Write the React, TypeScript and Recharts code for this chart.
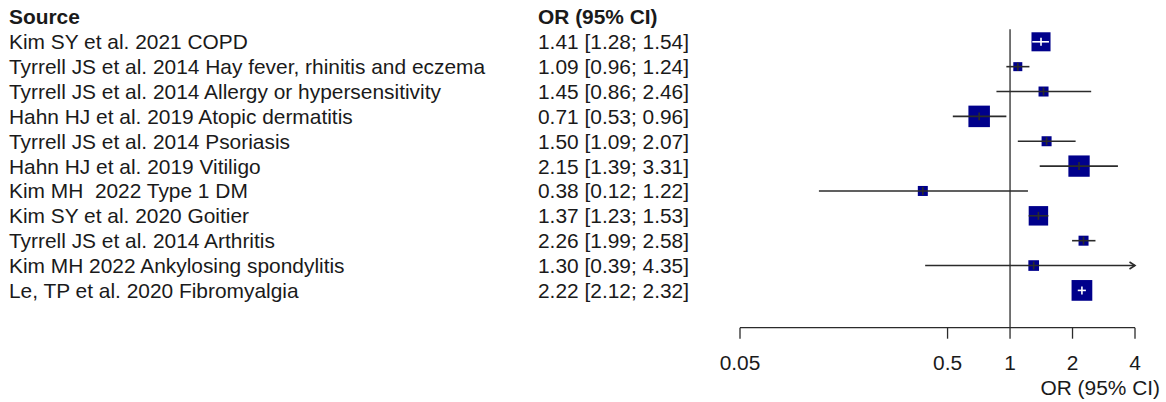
import React from "react";
import { ComposedChart, Scatter, XAxis, YAxis, ReferenceLine } from "recharts";

const studies = [
  "Kim SY et al. 2021 COPD",
  "Tyrrell JS et al. 2014 Hay fever, rhinitis and eczema",
  "Tyrrell JS et al. 2014 Allergy or hypersensitivity",
  "Hahn HJ et al. 2019 Atopic dermatitis",
  "Tyrrell JS et al. 2014 Psoriasis",
  "Hahn HJ et al. 2019 Vitiligo",
  "Kim MH  2022 Type 1 DM",
  "Kim SY et al. 2020 Goitier",
  "Tyrrell JS et al. 2014 Arthritis",
  "Kim MH 2022 Ankylosing spondylitis",
  "Le, TP et al. 2020 Fibromyalgia",
];
const orValues = [1.41, 1.09, 1.45, 0.71, 1.5, 2.15, 0.38, 1.37, 2.26, 1.3, 2.22];
const lowerCI = [1.28, 0.96, 0.86, 0.53, 1.09, 1.39, 0.12, 1.23, 1.99, 0.39, 2.12];
const upperCI = [1.54, 1.24, 2.46, 0.96, 2.07, 3.31, 1.22, 1.53, 2.58, 4.35, 2.32];
// approximate study weights (%), read from square sizes
const weights = [13.4, 3.0, 3.7, 17.1, 3.7, 16.8, 3.7, 14.0, 3.7, 4.2, 15.9];
const xTicks = [0.05, 0.5, 1, 2, 4];

const X_MIN = 0.05;
const X_MAX = 4;
const FONT = "'Liberation Sans', Arial, Helvetica, sans-serif";
const FS = 20.9;
const TEXT = "#1a1a1a";
const LINE = "#2b2b2b";
const SQUARE = "#00008B";
const SQ_SCALE = 5.2;

const sideOf = (w: number) => SQ_SCALE * Math.sqrt(w);
const fmt = (v: number) => v.toFixed(2);

const points = orValues.map((v, i) => ({ x: v, y: i + 1, w: weights[i] }));
const rowTicks = [0, ...studies.map((_, i) => i + 1)];

function RowTick(props: any) {
  const { y, payload } = props;
  const i = payload.value;
  const common = {
    y,
    dominantBaseline: "central" as const,
    fontFamily: FONT,
    fontSize: FS,
    fill: TEXT,
    style: { whiteSpace: "pre" as const },
  };
  if (i === 0) {
    return (
      <g>
        <text x={9} fontWeight="bold" {...common}>Source</text>
        <text x={538} fontWeight="bold" {...common}>OR (95% CI)</text>
      </g>
    );
  }
  const k = i - 1;
  return (
    <g>
      <text x={9} {...common}>{studies[k]}</text>
      <text x={538} {...common}>
        {`${fmt(orValues[k])} [${fmt(lowerCI[k])}; ${fmt(upperCI[k])}]`}
      </text>
    </g>
  );
}

function SquareShape(props: any) {
  const { cx, cy, payload } = props;
  const s = sideOf(payload.w);
  return <rect x={cx - s / 2} y={cy - s / 2} width={s} height={s} fill={SQUARE} />;
}

// CI segment; white when it fits inside the square
function ciShape(k: number, arrow: boolean) {
  return (p: any) => {
    const { x1, y1, x2, y2 } = p;
    const inside = Math.abs(x2 - x1) < sideOf(weights[k]);
    const col = inside ? "#ffffff" : LINE;
    return (
      <g>
        <line x1={x1} y1={y1} x2={x2} y2={y2} stroke={col} strokeWidth={1.6} />
        {arrow && (
          <path
            d={`M${x2 - 5.5},${y2 - 3.5} L${x2},${y2} L${x2 - 5.5},${y2 + 3.5}`}
            fill="none"
            stroke={col}
            strokeWidth={1.6}
          />
        )}
      </g>
    );
  };
}

function tickShape(k: number) {
  return (p: any) => {
    const { x1, y1, x2, y2 } = p;
    const ciW = Math.abs(Math.log10(upperCI[k] / lowerCI[k]));
    const inside = upperCI[k] < X_MAX && ciW * 208 < sideOf(weights[k]);
    return <line x1={x1} y1={y1} x2={x2} y2={y2} stroke={inside ? "#ffffff" : LINE} strokeWidth={1.6} />;
  };
}

export default function App() {
  return (
    <div style={{ width: 1166, height: 402, background: "#fff" }}>
      <style>{"body{margin:0}"}</style>
      <ComposedChart
        width={1166}
        height={402}
        data={points}
        margin={{ top: 4.5, right: 31, bottom: 0, left: 0 }}
      >
        <XAxis
          dataKey="x"
          type="number"
          scale="log"
          domain={[X_MIN, X_MAX]}
          ticks={xTicks}
          interval={0}
          allowDataOverflow
          height={74.3}
          tickSize={11}
          tickMargin={16}
          tickFormatter={(v: number) => String(v)}
          axisLine={{ stroke: LINE, strokeWidth: 1.3 }}
          tickLine={{ stroke: LINE, strokeWidth: 1.3 }}
          tick={{ fill: TEXT, fontSize: FS, fontFamily: FONT }}
          label={{
            content: (lp: any) => {
              const vb = lp.viewBox || { x: 740, width: 395 };
              return (
                <text
                  x={vb.x + vb.width + 25}
                  y={395}
                  textAnchor="end"
                  fontFamily={FONT}
                  fontSize={FS}
                  fill={TEXT}
                >
                  OR (95% CI)
                </text>
              );
            },
          }}
        />
        <YAxis
          dataKey="y"
          type="number"
          domain={[-0.5, 12.5]}
          reversed
          ticks={rowTicks}
          interval={0}
          width={740}
          axisLine={false}
          tickLine={false}
          tick={(p: any) => <RowTick {...p} />}
        />
        <ReferenceLine
          segment={[
            { x: 1, y: 0.5 },
            { x: 1, y: 12.5 },
          ]}
          stroke={LINE}
          strokeWidth={1.3}
        />
        <Scatter dataKey="y" isAnimationActive={false} shape={(p: any) => <SquareShape {...p} />} />
        {orValues.map((v, k) => (
          <ReferenceLine
            key={`ci-${k}`}
            zIndex={700}
            segment={[
              { x: Math.max(lowerCI[k], X_MIN), y: k + 1 },
              { x: Math.min(upperCI[k], X_MAX), y: k + 1 },
            ]}
            shape={ciShape(k, upperCI[k] > X_MAX)}
          />
        ))}
        {orValues.map((v, k) => (
          <ReferenceLine
            key={`tk-${k}`}
            zIndex={700}
            segment={[
              { x: v, y: k + 1 - 0.16 },
              { x: v, y: k + 1 + 0.16 },
            ]}
            shape={tickShape(k)}
          />
        ))}
      </ComposedChart>
    </div>
  );
}
